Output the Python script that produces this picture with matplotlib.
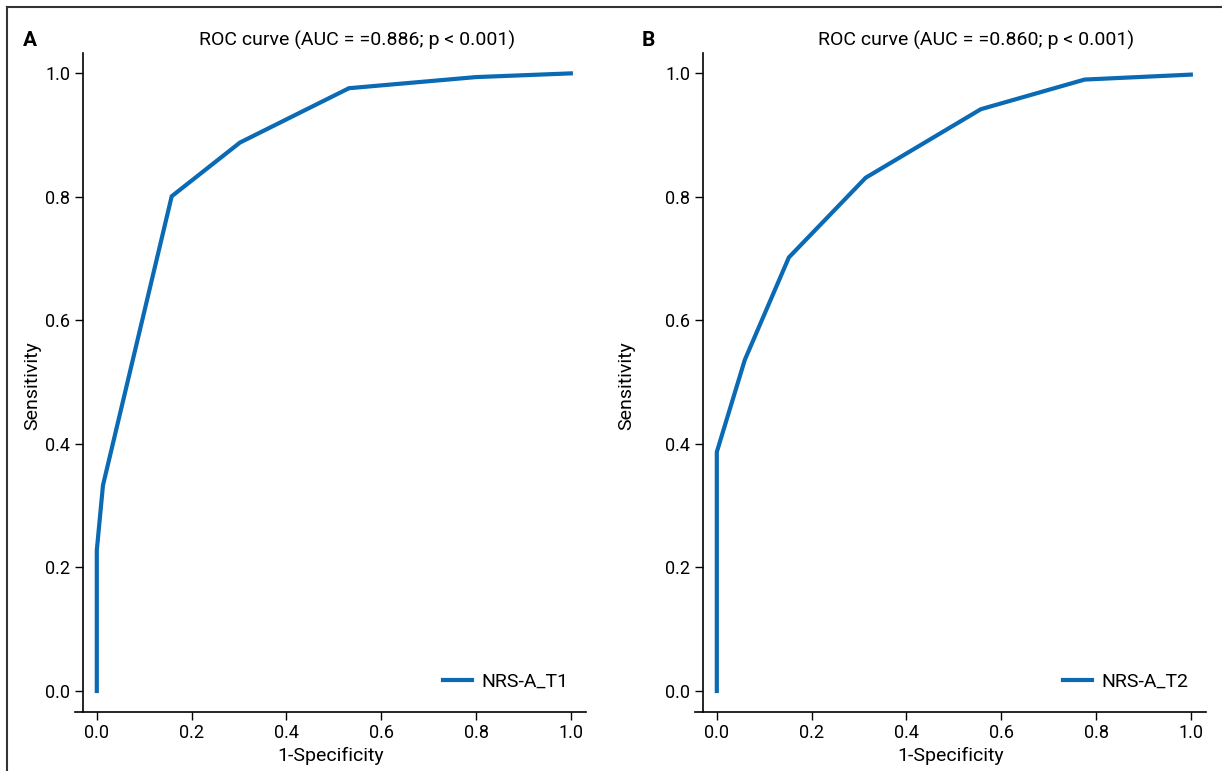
import numpy as np
import matplotlib.pyplot as plt
from matplotlib.lines import Line2D

plt.rcParams['font.family'] = ['Roboto', 'DejaVu Sans']

# panel A: NRS-A_T1
fpr_t1 = [0.0, 0.0, 0.013, 0.158, 0.302, 0.532, 0.80, 1.0]
tpr_t1 = [0.0, 0.228, 0.333, 0.801, 0.888, 0.976, 0.994, 1.0]
# panel B: NRS-A_T2
fpr_t2 = [0.0, 0.0, 0.059, 0.152, 0.314, 0.557, 0.776, 1.0]
tpr_t2 = [0.0, 0.387, 0.536, 0.702, 0.831, 0.942, 0.990, 0.998]

panels = [
    ('A', 'NRS-A_T1', 'ROC curve (AUC = =0.886; p < 0.001)', fpr_t1, tpr_t1),
    ('B', 'NRS-A_T2', 'ROC curve (AUC = =0.860; p < 0.001)', fpr_t2, tpr_t2),
]
ticks = [0.0, 0.2, 0.4, 0.6, 0.8, 1.0]
tick_labels = ['0.0', '0.2', '0.4', '0.6', '0.8', '1.0']

W, H = 1222, 771
fig = plt.figure(figsize=(W / 100, H / 100), dpi=100, facecolor='white')

# frame line on top and left of the figure
fig.add_artist(Line2D([7 / W, 7 / W], [0, 1 - 7 / H], transform=fig.transFigure, color='#333333', lw=1.5))
fig.add_artist(Line2D([7 / W, 1], [1 - 7 / H, 1 - 7 / H], transform=fig.transFigure, color='#333333', lw=1.5))

lefts = [75, 695]
title_x = [357, 976]
letter_x = [30, 648]
ylabel_x = [32, 626]
for i, (letter, name, title, fpr, tpr) in enumerate(panels):
    x0 = lefts[i]
    ax = fig.add_axes([x0 / W, 1 - 712 / H, 511 / W, (712 - 53) / H])
    ax.plot(fpr, tpr, color='#0a6ab4', lw=3, label=name, solid_joinstyle='miter')
    ax.set_xlim(-0.046, 1.032)
    ax.set_ylim(-0.034, 1.033)
    ax.spines['top'].set_visible(False)
    ax.spines['right'].set_visible(False)
    ax.spines['left'].set_position(('data', -0.03))
    for s in ['left', 'bottom']:
        ax.spines[s].set_linewidth(1.2)
    ax.set_xticks(ticks)
    ax.set_xticklabels(tick_labels)
    ax.set_yticks(ticks)
    ax.set_yticklabels(tick_labels)
    ax.tick_params(length=6, width=1, labelsize=13, pad=3)
    ax.set_xlabel('1-Specificity', fontsize=14, labelpad=3)
    ax.legend(loc='lower right', frameon=False, fontsize=14, handlelength=1.5,
              handletextpad=0.5, bbox_to_anchor=(1.0, 0.005))
    fig.text(ylabel_x[i] / W, 1 - 386 / H, 'Sensitivity', rotation=90, fontsize=14,
             ha='center', va='center')
    fig.text(title_x[i] / W, 1 - 40 / H, title, fontsize=14, ha='center', va='center')
    fig.text(letter_x[i] / W, 1 - 40 / H, letter, fontsize=15, fontweight='bold',
             ha='center', va='center')

fig.savefig('out.png', dpi=100, facecolor='white')
